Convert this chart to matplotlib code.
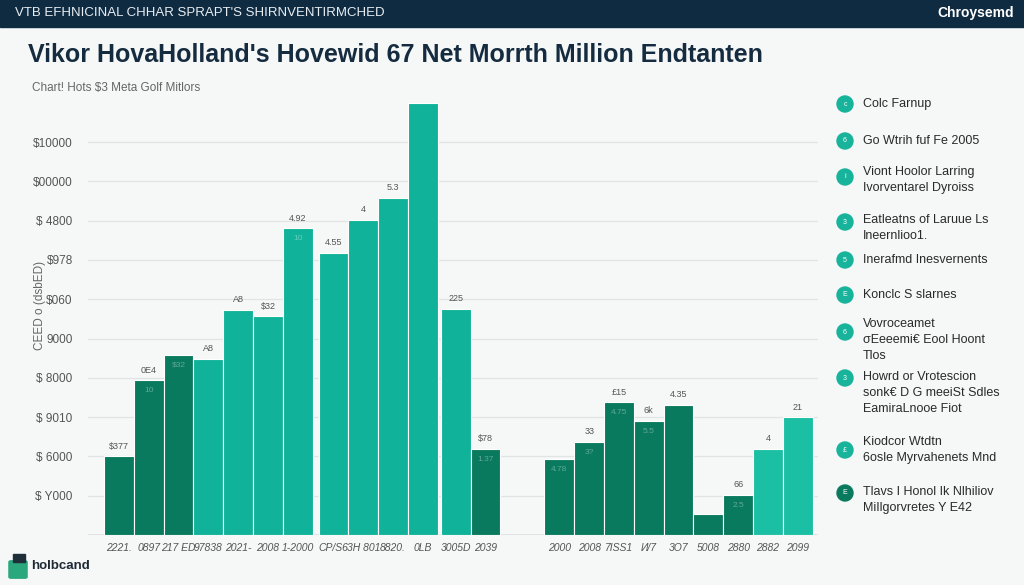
import matplotlib
matplotlib.use('Agg')
import matplotlib.pyplot as plt
from matplotlib.patches import Ellipse, Rectangle, FancyBboxPatch

plt.rcParams['font.family'] = ['Liberation Sans', 'DejaVu Sans']

# bar heights in grid units (one gridline step = 1)
values = [2.0, 3.94, 4.58, 4.48, 5.73, 5.57, 7.81,
          7.18, 8.02, 8.58, 10.99,
          5.75, 2.19,
          1.93, 2.37, 3.38, 2.90, 3.31, 0.53, 1.02, 2.19, 3.00]
group_sizes = [7, 4, 2, 9]
tones = ['dark', 'dark', 'dark', 'teal', 'teal', 'teal', 'teal',
         'teal', 'teal', 'teal', 'teal',
         'teal', 'dark',
         'dark', 'dark', 'dark', 'dark', 'dark', 'dark', 'dark', 'light', 'light']
top_labels = ['$377', '0E4', '', 'A8', 'A8', '$32', '4.92',
              '4.55', '4', '5.3', '',
              '225', '$78',
              '', '33', '£15', '6k', '4.35', '', '66', '4', '21']
inner_labels = ['', '10', '$32', '', '', '', '10',
                '', '', '', '',
                '', '1.37',
                '4.78', '3?', '4.75', '5.5', '', '', '2.5', '', '']
year_labels = ['2221.', '0897', '217 ED', '97838', '2021-', '2008', '1-2000',
               'CP/S6', '3H 801', '8820.', '0LB',
               '3005D', '2039',
               '2000', '2008', '7ISS1', 'И/7', '3O7', '5008', '2880', '2882', '2099']
ytick_labels = ['$ Y000', '$ 6000', '$ 9010', '$ 8000', '9000',
                '$060', '$978', '$ 4800', '$00000', '$10000']
legend_items = ['Colc Farnup',
                'Go Wtrih fuf Fe 2005',
                'Viont Hoolor Larring\nIvorventarel Dyroiss',
                'Eatleatns of Laruue Ls\nIneernlioo1.',
                'Inerafmd Inesvernents',
                'Konclc S slarnes',
                'Vovroceamet\nσEeeemi€ Eool Hoont\nTlos',
                'Howrd or Vrotescion\nsonk€ D G meeiSt Sdles\nEamiraLnooe Fiot',
                'Kiodcor Wtdtn\n6osle Myrvahenets Mnd',
                'Tlavs I Honol Ik Nlhiliov\nMiIlgorvretes Y E42']
legend_marks = ['c', '6', 'i', '3', '5', 'E', '6', '3', '£', 'E']

tone_colors = {'dark': '#0a7a5e', 'teal': '#10b39a', 'light': '#1bbfa3'}
bg = '#f6f7f7'

W, H = 1024, 585
def fx(p):
    return p / W
def fy(p):
    return 1 - p / H

fig = plt.figure(figsize=(10.24, 5.85), dpi=100, facecolor=bg)

# header band
fig.add_artist(Rectangle((0, fy(27)), 1, 27 / H, transform=fig.transFigure,
                         color='#0f2b42', zorder=0))
fig.text(fx(15), fy(13), "VTB EFHNICINAL CHHAR SPRAPT'S SHIRNVENTIRMCHED",
         color='#e8eef2', fontsize=9.5, va='center')
fig.text(fx(1014), fy(13), 'Chroysemd', color='white', fontsize=10,
         weight='bold', ha='right', va='center')

fig.text(fx(28), fy(55), "Vikor HovaHolland's Hovewid 67 Net Morrth Million Endtanten",
         fontsize=18, weight='bold', color='#152c40', va='center')
fig.text(fx(32), fy(88), 'Chart! Hots $3 Meta Golf Mitlors',
         fontsize=8.5, color='#666666', va='center')

ax = fig.add_axes([fx(88), fy(535), 730 / W, 435 / H])
ax.set_facecolor(bg)

# bar positions from the group layout
gaps = [0.2, 0.1, 1.48]
x = []
pos = 0
for g, n in enumerate(group_sizes):
    for i in range(n):
        x.append(pos + 0.5 + i)
    pos += n
    if g < len(gaps):
        pos += gaps[g]

cols = [tone_colors[t] for t in tones]
bars = ax.bar(x, values, width=1.0, color=cols, edgecolor='white',
              linewidth=0.8, zorder=3)

for xi, v, t, t2 in zip(x, values, top_labels, inner_labels):
    if t:
        ax.annotate(t, (xi, v), xytext=(0, 4), textcoords='offset points',
                    ha='center', va='bottom', fontsize=6.5, color='#555555')
    if t2:
        ax.annotate(t2, (xi, v), xytext=(0, -5), textcoords='offset points',
                    ha='center', va='top', fontsize=6, color='#ffffff', alpha=0.35)

ax.set_xlim(-0.54, 23.96)
ax.set_ylim(0, 11.07)
ax.set_yticks(range(1, 11), ytick_labels)
ax.set_xticks(x, year_labels)
ax.tick_params(axis='y', length=0, pad=11, labelsize=8.5, labelcolor='#555555')
ax.tick_params(axis='x', length=0, pad=6, labelsize=7.5, labelcolor='#555555')
for lb in ax.get_xticklabels():
    lb.set_style('italic')
ax.yaxis.grid(True, color='#e1e4e5', lw=0.9, zorder=0)
ax.axhline(0, color='#dde0e1', lw=1.2, zorder=2)
for s in ax.spines.values():
    s.set_visible(False)

fig.text(fx(40), fy(305), 'CEED o (dsbED)', rotation=90, fontsize=8.5,
         color='#666666', ha='center', va='center')

# legend column
mark_y = [104, 141, 177, 222, 260, 295, 332, 378, 450, 493]
text_y = [104, 141, 180, 228, 260, 295, 340, 393, 450, 500]
for i, (lab, m) in enumerate(zip(legend_items, legend_marks)):
    c = '#0a7a5e' if i == len(legend_items) - 1 else '#17b39a'
    fig.add_artist(Ellipse((fx(845), fy(mark_y[i])), 16 / W, 16 / H,
                           transform=fig.transFigure, color=c))
    fig.text(fx(845), fy(mark_y[i]), m, fontsize=5, color='white',
             ha='center', va='center')
    fig.text(fx(863), fy(text_y[i]), lab, fontsize=9, color='#2a2a2a',
             va='center', linespacing=1.4)

# logo bottom-left
fig.add_artist(FancyBboxPatch((fx(11), fy(577)), 14 / W, 15 / H,
                              boxstyle='round,pad=0.002', transform=fig.transFigure,
                              color='#2aa77c'))
fig.add_artist(Rectangle((fx(13), fy(562)), 12 / W, 8 / H,
                         transform=fig.transFigure, color='#1f2f3a'))
fig.text(fx(31), fy(566), 'holbcand', fontsize=9.5, weight='bold',
         color='#1f2a33', va='center')

fig.savefig('out.png', dpi=100, facecolor=bg)
